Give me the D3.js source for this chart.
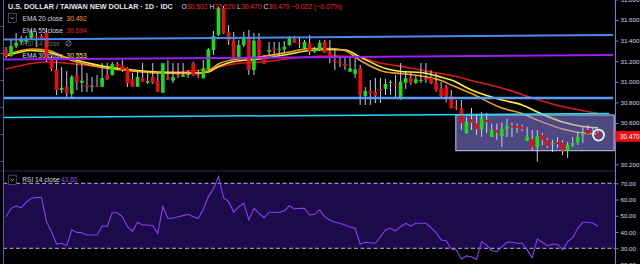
<!DOCTYPE html>
<html>
<head>
<meta charset="utf-8">
<script src="https://cdn.jsdelivr.net/npm/d3@7"></script>
<style>
  html, body { margin: 0; padding: 0; background: #000; overflow: hidden; }
  svg { display: block; font-family: "Liberation Sans", Arial, sans-serif; }
</style>
</head>
<body>
<div id="chart"></div>
<script>
// daily candles, oldest first
const opens = [31.315,31.253,31.348,31.386,31.389,31.425,31.445,31.445,31.474,31.230,
  31.114,30.920,30.952,30.881,31.059,30.991,30.969,30.952,30.962,30.952,
  31.066,31.066,31.173,31.163,31.134,31.027,30.952,31.037,30.991,31.049,
  31.011,30.894,31.046,31.011,31.066,31.049,31.071,31.180,31.066,31.034,
  31.121,31.308,31.454,31.714,31.477,31.399,31.238,31.357,31.422,31.114,
  31.406,31.238,31.292,31.325,31.308,31.315,31.357,31.416,31.380,31.325,
  31.374,31.292,31.308,31.389,31.292,31.211,31.195,31.173,31.098,31.075,
  31.131,30.862,30.911,30.901,30.930,30.930,30.994,30.979,30.830,30.991,
  31.040,30.991,31.012,31.037,31.040,30.991,30.937,30.952,30.862,30.758,
  30.743,30.500,30.636,30.597,30.539,30.629,30.467,30.532,30.474,30.539,
  30.571,30.571,30.564,30.428,30.442,30.364,30.483,30.435,30.393,30.413,
  30.409,30.331,30.386,30.409,30.483,30.532,30.493,30.502];
const highs = [31.338,31.406,31.474,31.445,31.445,31.503,31.474,31.464,31.522,31.250,
  31.211,31.143,31.104,31.066,31.182,31.172,31.085,31.046,31.066,31.182,
  31.182,31.192,31.192,31.211,31.143,31.085,31.114,31.182,31.085,31.182,
  31.085,31.182,31.211,31.182,31.182,31.182,31.114,31.192,31.114,31.211,
  31.328,31.493,31.726,31.736,31.551,31.484,31.406,31.486,31.503,31.474,
  31.474,31.260,31.386,31.386,31.386,31.396,31.445,31.445,31.435,31.406,
  31.454,31.338,31.406,31.406,31.406,31.308,31.250,31.230,31.241,31.241,
  31.163,30.949,31.017,31.037,31.037,31.027,31.017,31.066,31.182,31.095,
  31.095,31.066,31.182,31.182,31.114,31.085,30.998,30.969,30.920,30.823,
  30.823,30.658,30.746,30.678,30.707,30.697,30.594,30.594,30.604,30.643,
  30.604,30.594,30.584,30.561,30.532,30.532,30.503,30.454,30.435,30.464,
  30.435,30.416,30.464,30.513,30.561,30.580,30.551,30.520];
const lows = [31.230,31.240,31.328,31.357,31.367,31.406,31.338,31.406,31.192,31.104,
  30.871,30.891,30.855,30.852,30.920,30.901,30.901,30.901,30.949,30.949,
  31.017,31.061,31.143,31.095,30.949,30.949,30.949,30.998,30.978,30.978,
  30.901,30.891,31.017,30.988,31.037,31.046,31.037,31.056,31.037,31.032,
  31.114,31.260,31.445,31.464,31.357,31.241,31.230,31.338,31.066,31.066,
  31.241,31.173,31.260,31.241,31.260,31.279,31.348,31.377,31.328,31.318,
  31.260,31.279,31.299,31.279,31.182,31.114,31.143,31.114,31.095,31.037,
  30.775,30.775,30.775,30.794,30.794,30.872,30.872,30.852,30.828,30.930,
  30.969,30.978,30.988,30.988,30.978,30.904,30.852,30.801,30.741,30.726,
  30.532,30.498,30.532,30.483,30.464,30.503,30.464,30.435,30.368,30.464,
  30.464,30.503,30.522,30.425,30.337,30.224,30.386,30.357,30.318,30.357,
  30.289,30.260,30.367,30.386,30.406,30.483,30.474,30.470];
const closes = [31.250,31.348,31.380,31.406,31.416,31.474,31.435,31.425,31.230,31.124,
  30.920,30.942,30.888,31.049,30.991,31.011,30.952,30.962,30.952,31.037,
  31.024,31.173,31.153,31.114,30.985,30.952,31.049,31.001,31.008,30.991,
  30.904,31.180,31.024,31.046,31.059,31.066,31.075,31.061,31.056,31.131,
  31.315,31.445,31.714,31.471,31.399,31.244,31.357,31.422,31.114,31.399,
  31.260,31.180,31.308,31.308,31.318,31.341,31.428,31.380,31.367,31.389,
  31.292,31.315,31.380,31.282,31.238,31.195,31.180,31.153,31.131,31.121,
  30.872,30.911,30.888,30.865,30.914,30.979,30.998,30.966,31.001,31.034,
  30.991,31.024,31.017,31.017,30.985,30.927,30.862,30.855,30.743,30.743,
  30.597,30.613,30.603,30.539,30.655,30.610,30.532,30.506,30.539,30.571,
  30.558,30.555,30.542,30.467,30.364,30.474,30.435,30.376,30.403,30.393,
  30.331,30.386,30.403,30.467,30.500,30.493,30.503,30.470];

// moving averages at some candles
const emaFastIdx = [0,5,8,13,19,25,30,38,40,42,45,50,56,60,64,67,70,75,78,82,86,88,92,98,102,105,110,114,117];
const ema20Values = [31.260,31.318,31.308,31.207,31.139,31.105,31.085,31.080,31.105,31.173,31.216,31.241,31.289,31.323,31.323,31.304,31.207,31.095,31.080,31.056,31.012,30.969,30.886,30.745,30.692,30.629,30.541,30.503,30.492];
const ema30Values = [31.250,31.304,31.289,31.221,31.153,31.114,31.095,31.085,31.095,31.148,31.197,31.221,31.270,31.304,31.313,31.308,31.241,31.129,31.100,31.090,31.046,31.017,30.920,30.823,30.775,30.707,30.609,30.566,30.553];
const ema55Idx = [0,8,19,30,39,45,51,58,65,69,74,80,83,89,92,99,102,110,117];
const ema55Values = [31.124,31.192,31.143,31.090,31.114,31.173,31.195,31.236,31.250,31.245,31.182,31.134,31.105,31.051,31.012,30.925,30.876,30.760,30.694];

const rsiValues = [49.4,54.6,56.0,55.0,58.3,60.8,61.2,61.4,46.4,40.2,
  32.6,33.1,31.6,41.3,39.8,39.6,38.2,38.2,38.2,43.7,
  43.5,51.9,51.9,49.4,43.3,40.6,46.0,44.3,44.3,43.9,
  39.2,55.6,48.5,48.5,49.4,50.1,50.9,49.4,48.5,54.0,
  61.8,66.5,74.1,61.1,58.7,52.2,55.6,57.7,47.4,54.6,
  51.5,48.8,52.2,52.2,52.2,53.0,56.2,54.2,54.6,54.6,
  50.5,50.9,53.6,49.4,47.4,46.0,45.4,44.3,43.1,42.3,
  32.5,33.7,33.4,33.1,37.1,41.3,42.3,40.6,43.3,45.4,
  43.7,45.4,45.4,45.4,42.7,39.6,35.1,34.7,29.6,29.0,
  23.4,25.3,24.8,23.2,34.1,32.0,28.5,27.9,31.0,33.7,
  33.7,33.1,33.1,29.0,24.2,35.7,33.7,31.6,32.5,32.5,
  29.0,34.1,36.5,42.3,46.0,46.0,45.4,43.6];

// drawings: [startIndex, startPrice, endIndex, endPrice]
const trendLevels = [[-0.6, 31.410, 120, 31.454], [-0.6, 31.216, 120, 31.260], [-0.6, 30.842, 120, 30.842], [-0.6, 30.653, 119.2, 30.692]];
const boxRange = [88.9, 30.678, 120.2, 30.331];
const markPoint = [117.1, 30.483];

const priceTicks = [31.8, 31.6, 31.4, 31.2, 31.0, 30.8, 30.6, 30.2];
const rsiTicks = [70, 60, 50, 40, 30, 20];
const rsiBands = [70, 30];
const lastPrice = 30.470;

const width = 640, height = 264, axisX = 615, paneSplit = 171;

const svg = d3.select("#chart").append("svg")
    .attr("width", width)
    .attr("height", height);

svg.append("rect").attr("width", width).attr("height", height).attr("fill", "#000");

const x = d3.scaleLinear().domain([0, 117]).range([6, 598]);
const y = d3.scaleLinear().domain([30.2, 31.6]).range([164.2, 20]);
const yRsi = d3.scaleLinear().domain([30, 70]).range([248.3, 183.3]);

svg.append("clipPath").attr("id", "pricePane")
    .append("rect").attr("x", 0).attr("y", 0).attr("width", axisX).attr("height", paneSplit);

const price = svg.append("g").attr("clip-path", "url(#pricePane)");

// ---- RSI pane
svg.append("rect")
    .attr("x", 3).attr("width", axisX - 3)
    .attr("y", yRsi(70)).attr("height", yRsi(30) - yRsi(70))
    .attr("fill", "#1c0b4b");

svg.selectAll(".band").data(rsiBands).enter().append("line")
    .attr("x1", 3).attr("x2", axisX)
    .attr("y1", d => yRsi(d)).attr("y2", d => yRsi(d))
    .attr("stroke", "#b8b0f0")
    .attr("stroke-dasharray", "4,2.5")
    .attr("stroke-width", 1);

svg.append("path")
    .datum(rsiValues)
    .attr("fill", "none")
    .attr("stroke", "#8e3df5")
    .attr("stroke-width", 1.1)
    .attr("d", d3.line().x((d, i) => x(i)).y(d => yRsi(d)));

// pane separator and edges
svg.append("line").attr("x1", 0).attr("x2", axisX).attr("y1", paneSplit).attr("y2", paneSplit)
    .attr("stroke", "#2c2c4c").attr("stroke-width", 1);
svg.append("line").attr("x1", 3.5).attr("x2", 3.5).attr("y1", 0).attr("y2", height)
    .attr("stroke", "#5a5aa8").attr("stroke-width", 1);

const leftScale = d3.scaleLinear().domain([0, 6]).range([161, -1]);
svg.append("g").attr("transform", "translate(3.5,0)")
    .call(d3.axisLeft(leftScale).ticks(6).tickSize(3).tickFormat(""))
    .call(g => g.select(".domain").remove())
    .call(g => g.selectAll("line").attr("stroke", "#5a5aa8"));

// ---- moving averages
const emaLine = idx => d3.line().x((d, i) => x(idx[i])).y(d => y(d)).curve(d3.curveMonotoneX);

price.append("path").datum(ema55Values)
    .attr("fill", "none").attr("stroke", "#d81a1a").attr("stroke-width", 1.6)
    .attr("d", emaLine(ema55Idx));
price.append("path").datum(ema30Values)
    .attr("fill", "none").attr("stroke", "#fff033").attr("stroke-width", 1.6)
    .attr("d", emaLine(emaFastIdx));
price.append("path").datum(ema20Values)
    .attr("fill", "none").attr("stroke", "#f0a020").attr("stroke-width", 1.6)
    .attr("d", emaLine(emaFastIdx));

// ---- rectangle drawing
price.append("rect")
    .attr("x", x(boxRange[0])).attr("y", y(boxRange[1]))
    .attr("width", x(boxRange[2]) - x(boxRange[0]))
    .attr("height", y(boxRange[3]) - y(boxRange[1]))
    .attr("fill", "#9a90ff").attr("fill-opacity", 0.5)
    .attr("stroke", "#cfc8f5").attr("stroke-width", 1);

// ---- candles
const candles = d3.range(opens.length);
const up = i => closes[i] >= opens[i];
const bodyW = 3.6;

price.selectAll(".wick").data(candles).enter().append("line")
    .attr("x1", i => x(i)).attr("x2", i => x(i))
    .attr("y1", i => y(highs[i])).attr("y2", i => y(lows[i]))
    .attr("stroke", "#c8c8f5").attr("stroke-width", 1);

price.selectAll(".body").data(candles).enter().append("rect")
    .attr("x", i => x(i) - bodyW / 2)
    .attr("width", bodyW)
    .attr("y", i => y(Math.max(opens[i], closes[i])))
    .attr("height", i => Math.max(1, Math.abs(y(opens[i]) - y(closes[i]))))
    .attr("fill", i => up(i) ? "#14e014" : "#f00a0a");

// ---- trend lines
const lineColors = ["#4a8af0", "#9a1ff2", "#5b9cf6", "#18e0ff"];
const lineWidths = [2, 2, 2.6, 1.5];
price.selectAll(".trend").data(trendLevels).enter().append("line")
    .attr("x1", d => x(d[0])).attr("y1", d => y(d[1]))
    .attr("x2", d => x(d[2])).attr("y2", d => y(d[3]))
    .attr("stroke", (d, i) => lineColors[i])
    .attr("stroke-width", (d, i) => lineWidths[i]);

price.append("circle")
    .attr("cx", x(markPoint[0])).attr("cy", y(markPoint[1]))
    .attr("r", 5.5)
    .attr("fill", "none").attr("stroke", "#f0f0f0").attr("stroke-width", 1.8);

// ---- right axes
svg.append("line").attr("x1", axisX + 0.5).attr("x2", axisX + 0.5).attr("y1", 0).attr("y2", height)
    .attr("stroke", "#7c7cd8").attr("stroke-width", 1);

const styleAxis = g => {
    g.select(".domain").remove();
    g.selectAll("line").attr("stroke", "#7c7cd8");
    g.selectAll("text").attr("fill", "#d8d8f0").attr("font-size", 6.2)
        .attr("font-family", "Liberation Sans, Arial, sans-serif");
};

svg.append("g").attr("transform", `translate(${axisX + 0.5},0)`)
    .call(d3.axisRight(y).tickValues(priceTicks).tickFormat(d3.format(".3f")).tickSize(3).tickPadding(2))
    .call(styleAxis);

svg.append("g").attr("transform", `translate(${axisX + 0.5},0)`)
    .call(d3.axisRight(yRsi).tickValues(rsiTicks).tickFormat(d3.format(".2f")).tickSize(3).tickPadding(2))
    .call(styleAxis);

svg.append("rect")
    .attr("x", axisX + 0.5).attr("y", y(lastPrice) - 5.4)
    .attr("width", width - axisX).attr("height", 10.8)
    .attr("fill", "#e81010");
svg.append("text")
    .attr("x", axisX + 5).attr("y", y(lastPrice) + 2.2)
    .attr("fill", "#fff").attr("font-size", 6.4)
    .text(d3.format(".3f")(lastPrice));

// ---- header and legends
svg.append("text")
    .attr("x", 8).attr("y", 9.4)
    .attr("fill", "#e4e4ee").attr("font-size", 7.2).attr("font-weight", "bold")
    .text("U.S. DOLLAR / TAIWAN NEW DOLLAR · 1D · IDC");

const ohlc = svg.append("text").attr("x", 181.5).attr("y", 9.4).attr("font-size", 6.8);
const ohlcParts = [["O", "30.502"], ["H", "30.520"], ["L", "30.470"], ["C", "30.470"], ["", "−0.022 (−0.07%)"]];
ohlcParts.forEach((p, i) => {
    ohlc.append("tspan").attr("fill", "#d8d8e4").text((i > 0 ? " " : "") + p[0]);
    ohlc.append("tspan").attr("fill", "#f52a2a").text(p[1]);
});

const legendRows = [
    {label: "EMA 20 close", value: "30.492", color: "#ff9f1a", base: 20.6},
    {label: "EMA 55 close", value: "30.694", color: "#e81c1c", base: 33.3},
    {label: "RSI 14 close", value: "", color: "#888", base: 45.7},
    {label: "EMA 30 close", value: "30.553", color: "#ffe733", base: 58.3}
];

legendRows.forEach((r, i) => {
    svg.append("text").attr("x", 22.5).attr("y", r.base)
        .attr("font-size", 6.6)
        .attr("fill", r.value ? "#d5d5e2" : "#6a6a7a")
        .text(r.label);
    if (r.value) {
        svg.append("text").attr("x", 66.5).attr("y", r.base)
            .attr("font-size", 6.6).attr("fill", r.color).text(r.value);
    }
});

// hidden-indicator eye icon
svg.append("circle").attr("cx", 68.5).attr("cy", 43.3).attr("r", 2.6)
    .attr("fill", "none").attr("stroke", "#8a8aa0").attr("stroke-width", 0.8);
svg.append("line").attr("x1", 66.2).attr("y1", 45.6).attr("x2", 70.8).attr("y2", 41)
    .attr("stroke", "#8a8aa0").attr("stroke-width", 0.8);

const addButton = (bx, by) => {
    svg.append("rect").attr("x", bx).attr("y", by).attr("width", 8).attr("height", 9.2)
        .attr("fill", "#000").attr("stroke", "#50508c").attr("stroke-width", 0.8);
    svg.append("path")
        .attr("d", `M${bx + 2.3},${by + 3.8}L${bx + 4},${by + 5.5}L${bx + 5.7},${by + 3.8}`)
        .attr("fill", "none").attr("stroke", "#d8d8e8").attr("stroke-width", 0.8);
};
addButton(8.3, 13.4);
addButton(8.3, 175.2);

svg.append("text").attr("x", 22.3).attr("y", 182.2)
    .attr("font-size", 6.6).attr("fill", "#d5d5e2").text("RSI 14 close");
svg.append("text").attr("x", 61).attr("y", 182.2)
    .attr("font-size", 6.6).attr("fill", "#9b45ff").text(d3.format(".2f")(rsiValues[rsiValues.length - 1]));
</script>
</body>
</html>
